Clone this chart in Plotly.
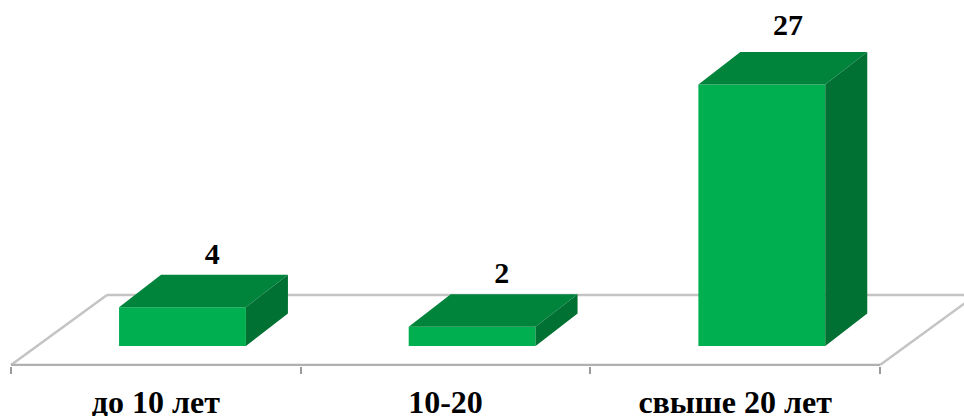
import plotly.graph_objects as go

categories = ["до 10 лет", "10-20", "свыше 20 лет"]
values = [4, 2, 27]
label_gap = [1.9, 1.9, 2.55]
label_shift = [0.03, 0.03, 0.018]

FRONT, TOP, SIDE = "#00B050", "#00843C", "#007033"
WALL, AXIS = "#C4C4C4", "#B0B0B0"
W, H = 964, 416
L_PX, R_PX, BOTTOM_PX = 11, 880, 366
ZERO_PX = 346
UNIT_Y = 9.685
UNIT_X = (R_PX - L_PX) / 3

x_lo = -0.5 - L_PX / UNIT_X
x_hi = 2.5 + (W - R_PX) / UNIT_X
y_lo = -(BOTTOM_PX - ZERO_PX) / UNIT_Y
y_hi = ZERO_PX / UNIT_Y

bar_off = -0.127
bar_w = 0.438
dx = 42 / UNIT_X
dy = 32.5 / UNIT_Y
axis_y = -19 / UNIT_Y
wall_y = (ZERO_PX - 295) / UNIT_Y
floor_dx = 96 / UNIT_X

pos = list(range(len(categories)))
fig = go.Figure()

fig.add_bar(
    x=pos, y=values, width=bar_w, offset=bar_off,
    marker=dict(color=FRONT, line=dict(width=0)), showlegend=False, hoverinfo="skip",
)
for i, v in zip(pos, values):
    l, r = i + bar_off, i + bar_off + bar_w
    fig.add_scatter(
        x=[l, r, r + dx, l + dx, l], y=[v, v, v + dy, v + dy, v],
        mode="lines", fill="toself", fillcolor=TOP, line=dict(width=0),
        showlegend=False, hoverinfo="skip",
    )
    fig.add_scatter(
        x=[r, r + dx, r + dx, r, r], y=[0, dy, v + dy, v, 0],
        mode="lines", fill="toself", fillcolor=SIDE, line=dict(width=0),
        showlegend=False, hoverinfo="skip",
    )

fig.add_scatter(
    x=[-0.5, 2.5], y=[axis_y, axis_y], mode="lines",
    line=dict(color=AXIS, width=2.5), showlegend=False, hoverinfo="skip",
)
fig.add_scatter(
    x=[i + bar_off + bar_w / 2 + dx / 2 + s for i, s in zip(pos, label_shift)],
    y=[v + dy + g for v, g in zip(values, label_gap)],
    mode="text", text=[str(v) for v in values],
    textfont=dict(family="Liberation Serif", size=30, color="#000000"),
    texttemplate="<b>%{text}</b>", textposition="middle center",
    cliponaxis=False, showlegend=False, hoverinfo="skip",
)

wall_line = dict(color=WALL, width=2.5)
fig.add_shape(type="line", layer="below", x0=-0.5, y0=axis_y, x1=-0.5 + floor_dx, y1=wall_y, line=wall_line)
fig.add_shape(type="line", layer="below", x0=-0.5 + floor_dx, y0=wall_y, x1=x_hi, y1=wall_y, line=wall_line)
fig.add_shape(type="line", layer="below", x0=2.5, y0=axis_y, x1=2.5 + floor_dx, y1=wall_y, line=wall_line)

fig.update_layout(
    width=W, height=H, margin=dict(l=0, r=0, t=0, b=H - BOTTOM_PX, autoexpand=False),
    paper_bgcolor="#FFFFFF", plot_bgcolor="#FFFFFF",
    xaxis=dict(
        range=[x_lo, x_hi], showgrid=False, zeroline=False, showline=False, automargin=False,
        tickmode="array", tickvals=pos, ticktext=[f"<b>{c}</b>" for c in categories],
        ticks="outside", ticklen=0, tickwidth=0, ticklabelstandoff=8,
        tickfont=dict(family="Liberation Serif", size=32, color="#000000"),
        minor=dict(tickmode="array", tickvals=[-0.5, 0.5, 1.5, 2.5], ticks="outside",
                   ticklen=7, tickwidth=1.5, tickcolor="#9A9A9A", showgrid=False),
    ),
    yaxis=dict(range=[y_lo, y_hi], visible=False),
)

fig.write_html("out.html", config={"displayModeBar": False},
               post_script="document.body.style.margin='0';")
